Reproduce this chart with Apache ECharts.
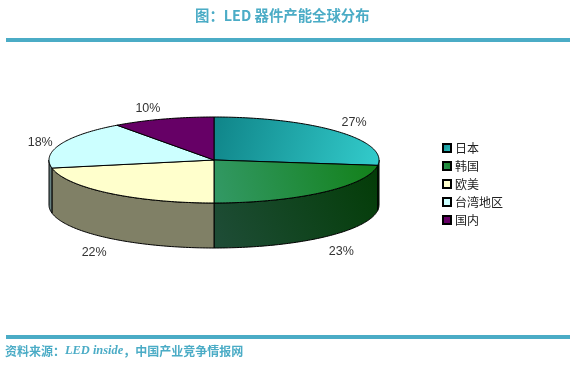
<!DOCTYPE html>
<html>
<head>
<meta charset="utf-8">
<style>
html, body { margin: 0; padding: 0; background: #fff; }
#chart { width: 579px; height: 369px; }
</style>
<script src="https://cdn.jsdelivr.net/npm/echarts@6/dist/echarts.min.js"></script>
</head>
<body>
<div id="chart"></div>
<script>
const categories = ['日本', '韩国', '欧美', '台湾地区', '国内']
const shares = [27, 23, 22, 18, 10]

// colours per slice: top face, then the rim below it
function grad(x, y, x2, y2, from, to) {
    return { type: 'linear', x: x, y: y, x2: x2, y2: y2, colorStops: [{ offset: 0, color: from }, { offset: 1, color: to }] }
}
const topColors = [
    grad(0, 0, 1, 1, '#0f8488', '#33cccc'),
    grad(1, 0, 0, 1, '#128018', '#339966'),
    '#ffffcc',
    '#ccffff',
    '#660066',
]
const rimColors = [
    '#033c06',
    grad(1, 0, 0, 1, '#033c06', '#1f4d38'),
    '#808066',
    '#668080',
    '#330033',
]
const labelNudge = [[-1, 0], [3, 4], [0, 4], [1, 4], [-8, 3]]

// pie geometry, the flattened disc seen from above
const cx = 214, cy = 160, rx = 165, ry = 43, depth = 45
const labelRx = 188, labelRy = 57

var total = shares.reduce(function (a, b) { return a + b }, 0)

function point(deg, yOffset) {
    var t = deg * Math.PI / 180
    return [cx + rx * Math.sin(t), cy - ry * Math.cos(t) + yOffset]
}

function arcPoints(from, to, yOffset) {
    var pts = []
    var steps = Math.max(2, Math.ceil(Math.abs(to - from)))
    for (var i = 0; i <= steps; i++) {
        pts.push(point(from + (to - from) * i / steps, yOffset))
    }
    return pts
}

function renderSlice(index) {
    var before = shares.slice(0, index).reduce(function (a, b) { return a + b }, 0)
    var a0 = before / total * 360
    var a1 = (before + shares[index]) / total * 360
    var mid = (a0 + a1) / 2 * Math.PI / 180
    var children = []

    // only the front half of the disc shows a rim
    var r0 = Math.max(a0, 90), r1 = Math.min(a1, 270)
    if (r1 > r0) {
        children.push({
            type: 'polygon',
            shape: { points: arcPoints(r0, r1, 0).concat(arcPoints(r1, r0, depth)) },
            style: { fill: rimColors[index], stroke: '#000', lineWidth: 1 },
        })
    }
    children.push({
        type: 'polygon',
        shape: { points: [[cx, cy]].concat(arcPoints(a0, a1, 0)) },
        style: { fill: topColors[index], stroke: '#000', lineWidth: 1 },
        z2: 10,
    })
    var c = Math.cos(mid)
    children.push({
        type: 'text',
        x: cx + labelRx * Math.sin(mid) + labelNudge[index][0],
        y: cy - labelRy * c + (c < 0 ? depth : 0) + labelNudge[index][1],
        style: {
            text: shares[index] + '%',
            fill: '#333',
            font: '12.5px "Liberation Sans", Arial, sans-serif',
            align: 'center',
            verticalAlign: 'middle',
        },
        z2: 20,
    })
    return { type: 'group', children: children }
}

var myChart = echarts.init(document.getElementById('chart'), null, { renderer: 'canvas' })

var series = categories.map(function (name, i) {
    return {
        type: 'custom',
        name: name,
        coordinateSystem: 'none',
        data: [[shares[i]]],
        z: i < 2 ? 2 : 3,
        silent: true,
        animation: false,
        itemStyle: { color: topColors[i], borderColor: '#000', borderWidth: 1 },
        renderItem: function () {
            return renderSlice(i)
        },
    }
})

var option = {
    animation: false,
    backgroundColor: '#fff',
    title: [
        {
            text: '图：LED 器件产能全球分布',
            left: 190,
            top: 3,
            textStyle: { color: '#4bacc6', fontSize: 14.4, fontWeight: 'bold', fontFamily: '"Noto Sans CJK SC", sans-serif' },
        },
        {
            text: '{a|资料来源：}{b|LED inside}{a|，中国产业竞争情报网}',
            left: 0,
            top: 340,
            textStyle: {
                rich: {
                    a: { color: '#4bacc6', fontSize: 12, fontWeight: 'bold', fontFamily: '"Noto Sans CJK SC", sans-serif' },
                    b: { color: '#4bacc6', fontSize: 12.4, fontWeight: 'bold', fontStyle: 'italic', fontFamily: '"Liberation Serif", serif' },
                },
            },
        },
    ],
    legend: {
        orient: 'vertical',
        left: 437,
        top: 137,
        itemWidth: 8,
        itemHeight: 8,
        itemGap: 6,
        icon: 'rect',
        selectedMode: false,
        data: categories,
        textStyle: { color: '#222', fontSize: 12, padding: [0, 0, 0, -1], fontFamily: '"Noto Sans CJK SC", sans-serif' },
    },
    graphic: [
        { type: 'rect', left: 6, top: 38, shape: { width: 564, height: 4 }, style: { fill: '#4bacc6' } },
        { type: 'rect', left: 6, top: 335, shape: { width: 564, height: 4 }, style: { fill: '#4bacc6' } },
    ],
    series: series,
}

option && myChart.setOption(option)
</script>
</body>
</html>
